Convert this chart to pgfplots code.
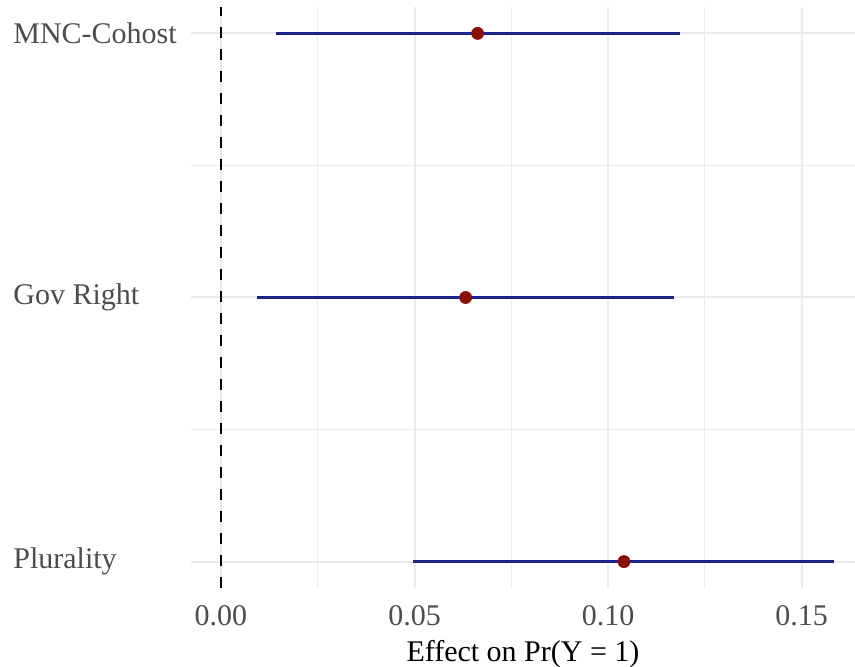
\documentclass[border=0pt]{standalone}
\usepackage{fontspec}
\setmainfont{Liberation Serif}
\usepackage{pgfplots}
\usepackage{pgfplotstable}
\pgfplotsset{compat=1.18}
\definecolor{ciblue}{HTML}{1A248A}
\definecolor{ptred}{HTML}{8B0E04}
\definecolor{gridgray}{HTML}{EBEBEB}
\definecolor{labelgray}{HTML}{4D4D4D}

\pgfplotstableread{
y est lo hi
3 0.0663 0.0142 0.1187
2 0.0632 0.0093 0.1171
1 0.1041 0.0497 0.1584
}\effects

\begin{document}
\begin{tikzpicture}
\begin{axis}[
    name=ax,
    scale only axis,
    width=332pt, height=290.5pt,
    xmin=-0.00775, xmax=0.1638,
    ymin=0.9, ymax=3.1,
    xtick={0,0.05,0.1,0.15},
    xticklabels={0.00,0.05,0.10,0.15},
    minor xtick={0.025,0.075,0.125},
    ytick={1,2,3},
    yticklabels={Plurality,Gov Right,MNC-Cohost},
    minor ytick={1.5,2.5},
    grid=both,
    major grid style={line width=1pt, color=gridgray},
    minor grid style={line width=0.5pt, color=gridgray},
    axis line style={draw=none},
    major tick length=0pt, minor tick length=0pt,
    tick style={draw=none},
    tick label style={font=\fontsize{15}{18}\selectfont, text=labelgray},
    xticklabel style={anchor=north, inner sep=0pt, yshift=-8.5pt},
    yticklabel style={anchor=west, inner sep=0pt, xshift=-89pt},
    xlabel={Effect on Pr(Y = 1)},
    xlabel style={font=\fontsize{15}{18}\selectfont, text=black,
        at={(axis description cs:0.5,0)}, anchor=base, yshift=-37pt},
]
% reference line at zero
\addplot[black, line width=0.9pt, dash pattern=on 5.5pt off 5.5pt] coordinates {(0,0.9) (0,3.1)};
% confidence intervals
\addplot[ciblue, line width=1.5pt] coordinates {(0.0142,3) (0.1187,3)};
\addplot[ciblue, line width=1.5pt] coordinates {(0.0093,2) (0.1171,2)};
\addplot[ciblue, line width=1.5pt] coordinates {(0.0497,1) (0.1584,1)};
% point estimates
\addplot[only marks, mark=*, mark size=3pt, color=ptred, mark options={draw=ptred, fill=ptred}]
    table[x=est, y=y] {\effects};
\end{axis}
\pgfresetboundingbox
\path[use as bounding box] ([shift={(-95.5pt,-39.5pt)}]ax.south west) rectangle ([shift={(0pt,3.5pt)}]ax.north east);
\end{tikzpicture}
\end{document}
